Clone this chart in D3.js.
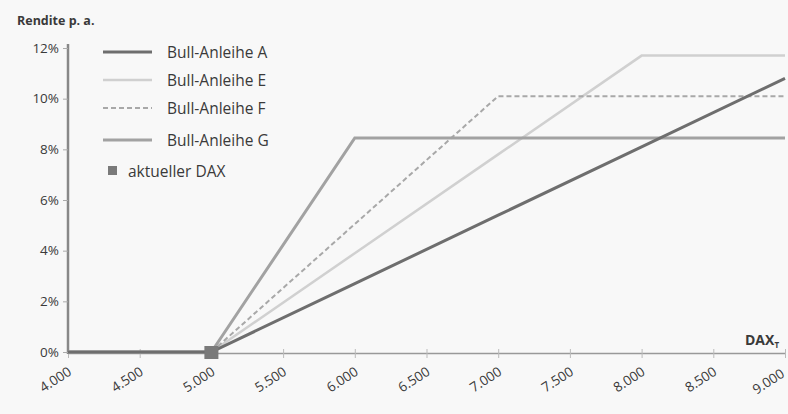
<!DOCTYPE html>
<html><head><meta charset="utf-8">
<script src="https://cdn.jsdelivr.net/npm/d3@7/dist/d3.min.js"></script>
<style>body{margin:0;background:#f8f8f8;}svg{display:block;font-family:"Open Sans",sans-serif;}</style>
</head><body><svg id="c" width="788" height="414"></svg>
<script>
const xTicks = [4000,4500,5000,5500,6000,6500,7000,7500,8000,8500,9000];
const yTicks = [0,2,4,6,8,10,12];
const seriesNames = ["Bull-Anleihe A","Bull-Anleihe E","Bull-Anleihe F","Bull-Anleihe G"];
const dax = [4000,5000,6000,7000,8000,9000];
const bullA = [0,0,2.7,5.4,8.1,10.8];
const bullE = [0,0,3.9,7.8,11.7,11.7];
const bullF = [0,0,5.05,10.1,10.1,10.1];
const bullG = [0,0,8.45,8.45,8.45,8.45];
const currentDAX = 5000, currentRet = 0;
const legendMarker = "aktueller DAX";

const svg = d3.select("#c");
const x = d3.scaleLinear().domain([4000,9000]).range([68,785]);
const y = d3.scaleLinear().domain([0,12]).range([352,48]);
const txt = "#3a3a3a";

svg.append("text").attr("x",17).attr("y",25).attr("font-size",12.5).attr("font-weight","bold").attr("fill",txt).text("Rendite p. a.");

// x axis
const xa = svg.append("g").attr("transform",`translate(0,${y(0)+1})`)
  .call(d3.axisBottom(x).tickValues(xTicks).tickSize(0).tickFormat(d=>d3.format(",")(d).replace(",",".")));
xa.select(".domain").attr("stroke","#999").attr("stroke-width",1.5);
xa.selectAll(".tick").append("line").attr("y1",-4).attr("y2",5).attr("stroke","#bbb");
xa.selectAll(".tick text").attr("font-size",13.5).attr("fill",txt).attr("font-family","Open Sans")
  .attr("text-anchor","end").attr("dy","0").attr("y",0)
  .attr("transform",d=>d===9000?"translate(0,23) rotate(-33)":"translate(4,21) rotate(-33)");

// y axis
const ya = svg.append("g").attr("transform",`translate(${x(4000)},0)`)
  .call(d3.axisLeft(y).tickValues(yTicks).tickSize(5).tickPadding(4).tickFormat(d=>d+"%"));
ya.select(".domain").attr("stroke","#888").attr("stroke-width",2.5).attr("d",`M0,${y(12)-4}V${y(0)+2}`);
ya.selectAll(".tick line").attr("stroke","#aaa");
ya.selectAll(".tick text").attr("font-size",13.5).attr("fill",txt).attr("font-family","Open Sans");

svg.append("text").attr("x",745).attr("y",345).attr("font-size",14).attr("font-weight","bold").attr("fill",txt)
  .text("DAX").append("tspan").attr("font-size",8).attr("dy",3).text("T");

const styles = [
  {data:bullA,color:"#6e6e6e",w:3,dash:null},
  {data:bullE,color:"#d0d0d0",w:2.5,dash:null},
  {data:bullF,color:"#a8a8a8",w:2,dash:"5,3"},
  {data:bullG,color:"#a2a2a2",w:3,dash:null}
];
const line = d3.line().x((d,i)=>x(dax[i])).y(d=>y(d));
[1,2,3,0].forEach(i=>{
  const s=styles[i];
  svg.append("path").datum(s.data).attr("d",line).attr("fill","none")
    .attr("stroke",s.color).attr("stroke-width",s.w).attr("stroke-dasharray",s.dash);
});
svg.append("rect").attr("x",x(currentDAX)-7).attr("y",y(currentRet)-6).attr("width",14).attr("height",13).attr("fill","#7a7a7a");

// legend
const ly=[52,80,108,140];
seriesNames.forEach((n,i)=>{
  const s=styles[i];
  svg.append("line").attr("x1",103).attr("x2",152).attr("y1",ly[i]).attr("y2",ly[i])
    .attr("stroke",s.color).attr("stroke-width",s.w).attr("stroke-dasharray",s.dash);
  svg.append("text").attr("x",167).attr("y",ly[i]+5.5).attr("font-size",15.5).attr("fill",txt).text(n);
});
svg.append("rect").attr("x",108).attr("y",166).attr("width",9).attr("height",9).attr("fill","#7a7a7a");
svg.append("text").attr("x",128).attr("y",176.5).attr("font-size",15.5).attr("fill",txt).text(legendMarker);
</script></body></html>
